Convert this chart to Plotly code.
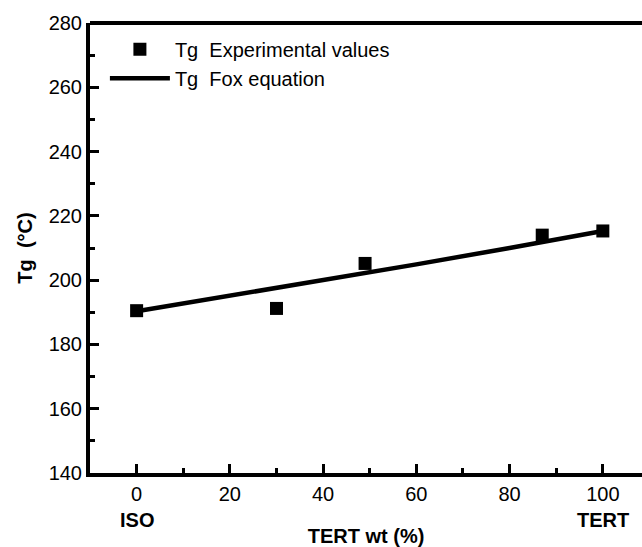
import plotly.graph_objects as go

# Data
exp_x = [0, 30, 49, 87, 100]
exp_y = [190.5, 191.2, 205.2, 214.0, 215.3]

fox_x = [0, 20, 40, 50, 60, 80, 100]
fox_y = [190.3, 195.1, 199.9, 202.4, 204.9, 210.0, 215.3]

x_ticks = [0, 20, 40, 60, 80, 100]
y_ticks = [140, 160, 180, 200, 220, 240, 260, 280]

FONT = "Liberation Sans, Arial, sans-serif"

fig = go.Figure()
fig.add_trace(go.Scatter(
    x=exp_x, y=exp_y, mode="markers", name="Tg\u00a0\u00a0Experimental values",
    marker=dict(symbol="square", size=13, color="black", line=dict(width=0)),
))
fig.add_trace(go.Scatter(
    x=fox_x, y=fox_y, mode="lines", name="Tg\u00a0\u00a0Fox equation",
    line=dict(color="black", width=4.5),
))

axis_common = dict(
    showgrid=False, zeroline=False, showline=True, linecolor="black",
    linewidth=4, ticks="inside", tickcolor="black", tickwidth=3,
    ticklen=9, tickfont=dict(family=FONT, size=20, color="black"),
)

fig.update_xaxes(
    range=[-10, 108.4], tickvals=x_ticks, mirror=False,
    minor=dict(ticks="inside", dtick=10, tick0=0, ticklen=5, tickwidth=3, tickcolor="black"),
    title=dict(text="<b>TERT wt (%)</b>", font=dict(family=FONT, size=20, color="black"), standoff=28),
    **axis_common,
)
fig.update_yaxes(
    range=[140, 280], tickvals=y_ticks,
    minor=dict(ticks="inside", dtick=10, tick0=0, ticklen=5, tickwidth=3, tickcolor="black"),
    title=dict(text="<b>Tg\u00a0\u00a0(°C)</b>", font=dict(family=FONT, size=20, color="black"), standoff=12),
    **axis_common,
)

# top frame line
fig.add_shape(type="line", xref="paper", yref="paper", x0=0, x1=1, y0=1, y1=1,
              line=dict(color="black", width=4))

fig.add_annotation(x=0, y=0, xref="x", yref="paper", yanchor="middle", yshift=-47,
                   text="<b>ISO</b>", showarrow=False,
                   font=dict(family=FONT, size=20, color="black"))
fig.add_annotation(x=100, y=0, xref="x", yref="paper", yanchor="middle", yshift=-47,
                   text="<b>TERT</b>", showarrow=False,
                   font=dict(family=FONT, size=20, color="black"))

fig.update_layout(
    width=642, height=547,
    margin=dict(l=90, r=0, t=23, b=69),
    paper_bgcolor="white", plot_bgcolor="white",
    showlegend=True,
    legend=dict(x=0.027, y=0.985, xanchor="left", yanchor="top",
                bgcolor="rgba(0,0,0,0)", borderwidth=0,
                font=dict(family=FONT, size=20, color="black"),
                tracegroupgap=0, itemwidth=60),
)

fig.write_html("out.html")
